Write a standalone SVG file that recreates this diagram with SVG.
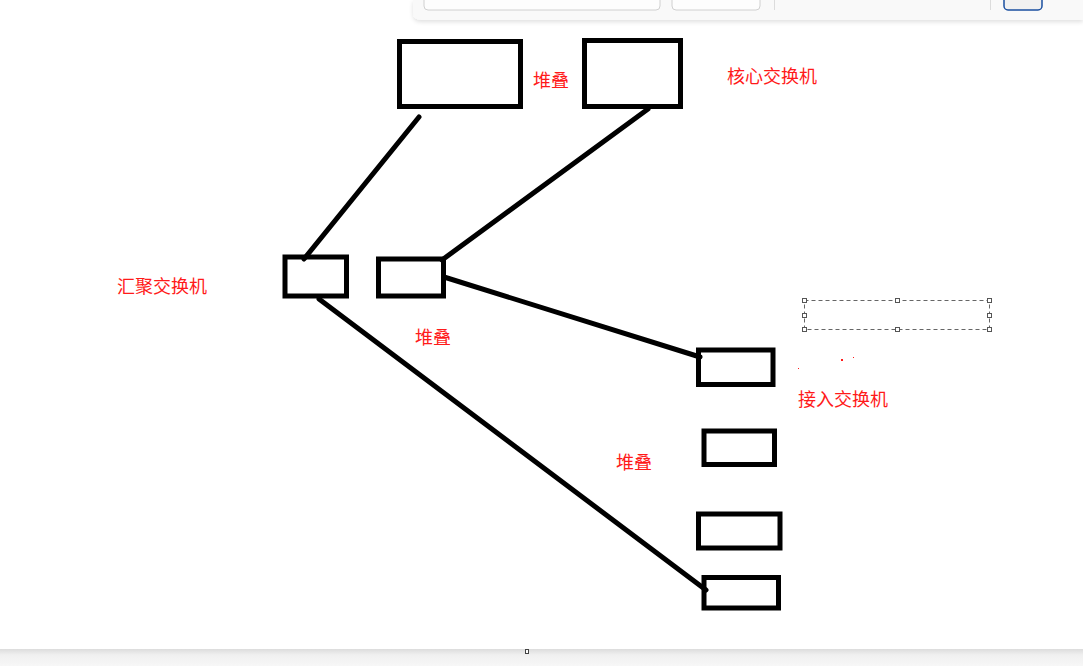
<svg xmlns="http://www.w3.org/2000/svg" width="1083" height="666" viewBox="0 0 1083 666">
  <defs>
    <linearGradient id="bandShade" x1="0" y1="0" x2="0" y2="1">
      <stop offset="0" stop-color="#dcdcdc"/>
      <stop offset="0.35" stop-color="#f0f0f0"/>
      <stop offset="1" stop-color="#f7f7f7"/>
    </linearGradient>
    <filter id="shadow" x="-5%" y="-50%" width="110%" height="250%">
      <feDropShadow dx="0" dy="2" stdDeviation="2" flood-color="#000" flood-opacity="0.12"/>
    </filter>
  </defs>
  <style>
    .box { fill: none; stroke: #000; stroke-width: 5; }
    .link { stroke: #000; stroke-width: 5; stroke-linecap: round; fill: none; }
    .lbl { fill: #ff1a1a; font-family: "Noto Sans CJK SC", "Microsoft YaHei", sans-serif; font-size: 18px; }
    .handle { fill: #fff; stroke: #555; stroke-width: 1; }
    .sel { fill: none; stroke: #666; stroke-width: 1; stroke-dasharray: 4 3; }
  </style>
  <rect width="1083" height="666" fill="#fff"/>

  <!-- top toolbar -->
  <g id="toolbar">
    <path d="M413 0 H1083 V20 H421 Q413 20 413 12 Z" fill="#f9f9f9" filter="url(#shadow)"/>
    <rect x="424" y="-6" width="236" height="16" rx="4" fill="#fdfdfd" stroke="#d0d0d0"/>
    <rect x="672" y="-6" width="88" height="16" rx="4" fill="#fdfdfd" stroke="#d0d0d0"/>
    <line x1="774.5" y1="0" x2="774.5" y2="10" stroke="#dcdcdc"/>
    <line x1="990.5" y1="0" x2="990.5" y2="10" stroke="#dcdcdc"/>
    <rect x="1004" y="-6" width="38" height="16" rx="4" fill="#f1f1f1" stroke="#1a4fa0" stroke-width="1.5"/>
  </g>

  <!-- bottom band -->
  <g id="bottombar">
    <rect x="0" y="649" width="1083" height="17" fill="url(#bandShade)"/>
    <rect x="525.5" y="649.5" width="3" height="4" fill="#fff" stroke="#444"/>
  </g>

  <!-- connectors -->
  <g id="connectors">
    <line class="link" x1="419" y1="117" x2="304" y2="259"/>
    <line class="link" x1="648" y1="109" x2="442" y2="260"/>
    <line class="link" x1="444" y1="277" x2="700" y2="357"/>
    <line class="link" x1="319" y1="299" x2="706" y2="590"/>
  </g>

  <!-- core switches -->
  <g id="core-left"><rect class="box" x="399.5" y="41.5" width="121" height="65"/></g>
  <g id="core-right"><rect class="box" x="584.5" y="40.5" width="96" height="66"/></g>

  <!-- aggregation switches -->
  <g id="agg-left"><rect class="box" x="285" y="257" width="61.5" height="39"/></g>
  <g id="agg-right"><rect class="box" x="378.5" y="259" width="65" height="37"/></g>

  <!-- access switches -->
  <g id="access-1"><rect class="box" x="698.5" y="350" width="74.5" height="34.5"/></g>
  <g id="access-2"><rect class="box" x="704" y="431" width="70.5" height="33.5"/></g>
  <g id="access-3"><rect class="box" x="698.5" y="514" width="81.5" height="34"/></g>
  <g id="access-4"><rect class="box" x="704" y="577.5" width="74.5" height="30.5"/></g>

  <!-- labels -->
  <g id="labels">
    <text class="lbl" x="533" y="87">堆叠</text>
    <text class="lbl" x="727" y="83">核心交换机</text>
    <text class="lbl" x="117" y="293">汇聚交换机</text>
    <text class="lbl" x="415" y="344">堆叠</text>
    <text class="lbl" x="798" y="406">接入交换机</text>
    <text class="lbl" x="616" y="469">堆叠</text>
  </g>

  <!-- selection frame -->
  <g id="selection">
    <rect class="sel" x="804.5" y="300.5" width="185" height="29"/>
    <rect class="handle" x="802.5" y="298.5" width="4" height="4"/>
    <rect class="handle" x="895.5" y="298.5" width="4" height="4"/>
    <rect class="handle" x="987.5" y="298.5" width="4" height="4"/>
    <rect class="handle" x="802.5" y="313.5" width="4" height="4"/>
    <rect class="handle" x="987.5" y="313.5" width="4" height="4"/>
    <rect class="handle" x="802.5" y="327.5" width="4" height="4"/>
    <rect class="handle" x="895.5" y="327.5" width="4" height="4"/>
    <rect class="handle" x="987.5" y="327.5" width="4" height="4"/>
    <rect x="798" y="368" width="1" height="1" fill="#ff1a1a"/>
    <rect x="841" y="359" width="2" height="2" fill="#ff1a1a"/>
    <rect x="853" y="357" width="1" height="1" fill="#ff1a1a"/>
  </g>
</svg>
